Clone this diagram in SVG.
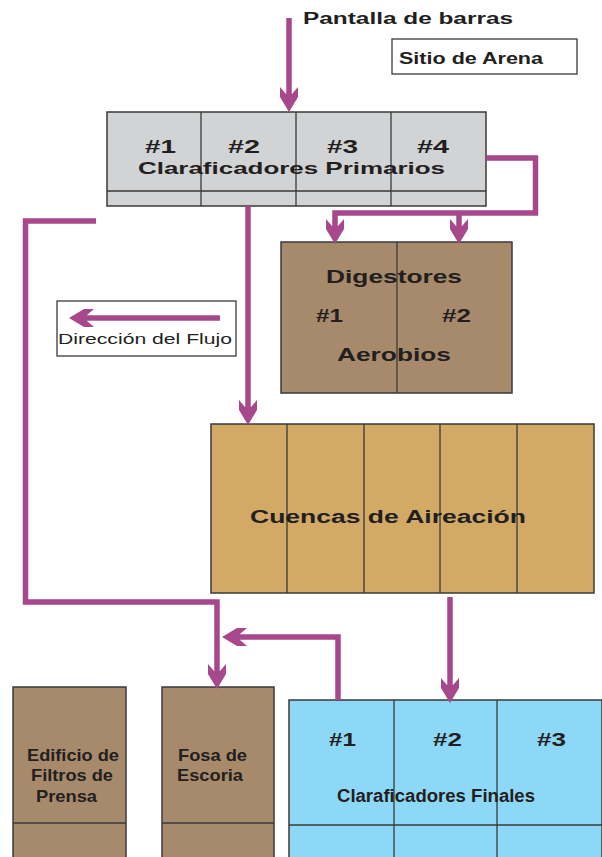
<svg xmlns="http://www.w3.org/2000/svg" width="602" height="857" viewBox="0 0 602 857">
<style>
.box{stroke:#3a3a3a;stroke-width:1.5}
.div{stroke:#3a3a3a;stroke-width:1.3;fill:none}
.t{font-family:"Liberation Sans",Arial,sans-serif;font-weight:bold;fill:#231f20}
.r{font-family:"Liberation Sans",Arial,sans-serif;fill:#231f20}
.c{fill:none;stroke:#a6488b;stroke-width:5.5;stroke-linejoin:miter;marker-end:url(#ah)}
.cn{fill:none;stroke:#a6488b;stroke-width:5.5;stroke-linejoin:miter}
</style>
<defs>
<marker id="ah" markerUnits="userSpaceOnUse" viewBox="-8 -10 28 20" markerWidth="28" markerHeight="20" refX="0" refY="0" orient="auto" overflow="visible">
<path d="M18,0 L3,-9 L-7,-9 L0,-3 L0,3 L-7,9 L3,9 Z" fill="#a6488b"/>
</marker>
</defs>
<rect width="602" height="857" fill="#ffffff"/>

<g id="pantalla">
<text class="t" x="303" y="24" font-size="16" textLength="210" lengthAdjust="spacingAndGlyphs">Pantalla de barras</text>
</g>

<g id="sitio-arena">
<rect x="392" y="39" width="185" height="35" fill="#ffffff" stroke="#3a3a3a" stroke-width="1.3"/>
<text class="t" x="399" y="64" font-size="16" textLength="144" lengthAdjust="spacingAndGlyphs">Sitio de Arena</text>
</g>

<g id="clarificadores-primarios">
<rect class="box" x="107" y="112" width="379" height="94" fill="#d1d3d4"/>
<path class="div" d="M201,112V206M296,112V206M391,112V206M107,191H486"/>
<text class="t" x="145" y="153" font-size="18" textLength="31" lengthAdjust="spacingAndGlyphs">#1</text>
<text class="t" x="228" y="153" font-size="18" textLength="32" lengthAdjust="spacingAndGlyphs">#2</text>
<text class="t" x="327" y="153" font-size="18" textLength="31" lengthAdjust="spacingAndGlyphs">#3</text>
<text class="t" x="417" y="153" font-size="18" textLength="32" lengthAdjust="spacingAndGlyphs">#4</text>
<text class="t" x="138" y="174" font-size="17" textLength="307" lengthAdjust="spacingAndGlyphs">Claraficadores Primarios</text>
</g>

<g id="digestores">
<rect class="box" x="281" y="242" width="231" height="151" fill="#a78a6b"/>
<path class="div" d="M397,242V393"/>
<text class="t" x="326" y="283" font-size="18" textLength="136" lengthAdjust="spacingAndGlyphs">Digestores</text>
<text class="t" x="316" y="322" font-size="18" textLength="27" lengthAdjust="spacingAndGlyphs">#1</text>
<text class="t" x="442" y="322" font-size="18" textLength="29" lengthAdjust="spacingAndGlyphs">#2</text>
<text class="t" x="337" y="361" font-size="18" textLength="114" lengthAdjust="spacingAndGlyphs">Aerobios</text>
</g>

<g id="leyenda-flujo">
<rect x="57" y="301" width="179" height="55" fill="#ffffff" stroke="#3a3a3a" stroke-width="1.3"/>
<text class="r" x="58" y="344" font-size="14" textLength="174" lengthAdjust="spacingAndGlyphs">Dirección del Flujo</text>
</g>

<g id="cuencas-aireacion">
<rect class="box" x="211" y="424" width="383" height="169" fill="#d2aa66"/>
<path class="div" d="M287,424V593M364,424V593M440,424V593M517,424V593"/>
<text class="t" x="250" y="523" font-size="18" textLength="276" lengthAdjust="spacingAndGlyphs">Cuencas de Aireación</text>
</g>

<g id="edificio-filtros">
<rect class="box" x="13" y="687" width="113" height="175" fill="#a78a6b"/>
<path class="div" d="M13,823H126"/>
<text class="t" x="27" y="761" font-size="17" textLength="92" lengthAdjust="spacingAndGlyphs">Edificio de</text>
<text class="t" x="31" y="781" font-size="17" textLength="82" lengthAdjust="spacingAndGlyphs">Filtros de</text>
<text class="t" x="36" y="802" font-size="17" textLength="61" lengthAdjust="spacingAndGlyphs">Prensa</text>
</g>

<g id="fosa-escoria">
<rect class="box" x="162" y="687" width="112" height="175" fill="#a78a6b"/>
<path class="div" d="M162,823H274"/>
<text class="t" x="178" y="761" font-size="17" textLength="69" lengthAdjust="spacingAndGlyphs">Fosa de</text>
<text class="t" x="177" y="781" font-size="17" textLength="66" lengthAdjust="spacingAndGlyphs">Escoria</text>
</g>

<g id="clarificadores-finales">
<rect class="box" x="289" y="700" width="313" height="162" fill="#8dd8f7"/>
<path class="div" d="M394,700V857M497,700V857M289,825H602"/>
<text class="t" x="329" y="746" font-size="18" textLength="27" lengthAdjust="spacingAndGlyphs">#1</text>
<text class="t" x="433" y="746" font-size="18" textLength="29" lengthAdjust="spacingAndGlyphs">#2</text>
<text class="t" x="537" y="746" font-size="18" textLength="29" lengthAdjust="spacingAndGlyphs">#3</text>
<text class="t" x="337" y="802" font-size="18" textLength="198" lengthAdjust="spacingAndGlyphs">Claraficadores Finales</text>
</g>

<g id="conectores">
<path class="c" d="M289,18V94"/>
<path class="c" d="M486,158H535.5V213H335V226"/>
<path class="c" d="M459,213V226"/>
<path class="c" d="M248,206V407"/>
<path class="c" d="M96,221H25.5V602H217V671"/>
<path class="c" d="M338,700V637H240"/>
<path class="c" d="M450,597V685"/>
<path class="c" d="M220,318H87"/>
</g>
</svg>
